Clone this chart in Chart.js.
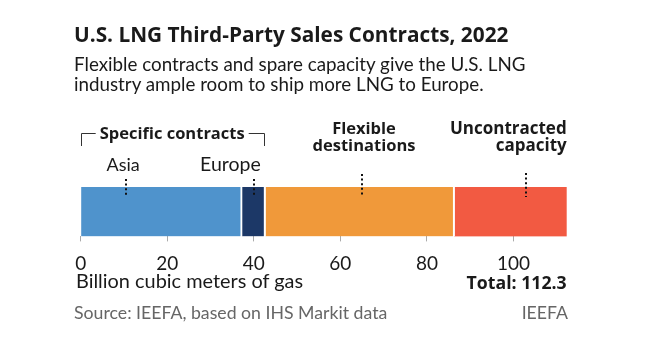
<!DOCTYPE html>
<html>
<head>
<meta charset="utf-8">
<script src="https://cdn.jsdelivr.net/npm/chart.js@4"></script>
<style>
  html, body { margin: 0; padding: 0; background: #fff; }
  #wrap { position: relative; width: 645px; height: 350px; overflow: hidden; font-family: Lato, sans-serif; color: #1a1a1a; }
  #chart { position: absolute; left: 0; top: 0; }
  .t { position: absolute; white-space: nowrap; }
  .b { font-family: "Open Sans", sans-serif; font-weight: bold; }
</style>
</head>
<body>
<div id="wrap">
  <canvas id="chart" width="645" height="350"></canvas>
  <div id="title" class="t b">U.S. LNG Third-Party Sales Contracts, 2022</div>
  <div id="subtitle" class="t">Flexible contracts and spare capacity give the U.S. LNG<br>industry ample room to ship more LNG to Europe.</div>
  <div id="specific" class="t b">Specific contracts</div>
  <div id="lblAsia" class="t">Asia</div>
  <div id="lblEurope" class="t">Europe</div>
  <div id="lblFlex" class="t b" style="text-align:center">Flexible<br>destinations</div>
  <div id="lblUnc" class="t b" style="text-align:right">Uncontracted<br>capacity</div>
  <div id="axisTitle" class="t">Billion cubic meters of gas</div>
  <div id="total" class="t b">Total: 112.3</div>
  <div id="source" class="t" style="color:#666">Source: IEEFA, based on IHS Markit data</div>
  <div id="brand" class="t" style="color:#666">IEEFA</div>
</div>
<script>
// values (billion cubic meters)
const categories = ["U.S. LNG"];
const segmentLabels = ["Asia", "Europe", "Flexible destinations", "Uncontracted capacity"];
const segmentValues = [37.3, 5.4, 43.7, 25.9];
const segmentColors = ["#4f93cc", "#1c3867", "#f0993a", "#f25a42"];
const tickStep = 20;
const totalValue = 112.3;
// where the dotted callouts touch the bar
const calloutAt = [10.5, 40, 65, 103];

const el = (id) => document.getElementById(id);

// ascent / descent per family, as fraction of font size
const metrics = { lato: [0.987, 0.213], open: [1.069, 0.293] };

// put a text box so its first baseline sits at y
function place(id, x, baseline, size, align, lineH) {
  const node = el(id);
  const m = node.classList.contains("b") ? metrics.open : metrics.lato;
  const content = (m[0] + m[1]) * size;
  const lh = lineH || content;
  node.style.fontSize = size + "px";
  node.style.lineHeight = lh + "px";
  node.style.top = (baseline - ((lh - content) / 2 + m[0] * size)) + "px";
  node.style.left = x + "px";
  if (align === "center") node.style.transform = "translateX(-50%)";
  if (align === "right") node.style.transform = "translateX(-100%)";
}

place("title", 74, 42.3, 20.8, "left");
place("subtitle", 74, 71.7, 18.8, "left", 20);
place("axisTitle", 76, 289, 19.9, "left");
place("source", 74, 319, 17.7, "left");
place("brand", 568, 319, 17.7, "right");

const calloutPlugin = {
  id: "callouts",
  afterDraw(chart) {
    const ctx = chart.ctx;
    const x = chart.scales.x;
    const area = chart.chartArea;
    const px = calloutAt.map((v) => x.getPixelForValue(v));

    place("specific", x.getPixelForValue(0) + 19, 140, 16.5, "left");
    place("lblAsia", px[0] - 3, 171.7, 18, "center");
    place("lblEurope", px[1] + 7, 171.7, 19.5, "right");
    place("lblFlex", px[2] + 2, 134, 16.5, "center", 17.7);
    place("lblUnc", area.right, 134, 17, "right", 17.7);
    place("total", area.right, 289, 17.7, "right");

    // dotted leaders
    ctx.save();
    ctx.strokeStyle = "#111";
    ctx.lineWidth = 2;
    ctx.setLineDash([2, 2.6]);
    const starts = [179, 179, 174, 173];
    px.forEach((p, i) => {
      ctx.beginPath();
      ctx.moveTo(Math.round(p), starts[i]);
      ctx.lineTo(Math.round(p), 197);
      ctx.stroke();
    });
    ctx.restore();

    // bracket over the specific contracts
    const wrapBox = el("wrap").getBoundingClientRect();
    const tb = el("specific").getBoundingClientRect();
    const x0 = Math.round(x.getPixelForValue(0)) + 0.5;
    const x1 = Math.round(x.getPixelForValue(segmentValues[0] + segmentValues[1])) - 0.5;
    const y = 133.5;
    ctx.save();
    ctx.strokeStyle = "#333";
    ctx.lineWidth = 1;
    ctx.beginPath();
    ctx.moveTo(x0, 146);
    ctx.lineTo(x0, y);
    ctx.lineTo(tb.left - wrapBox.left - 4, y);
    ctx.moveTo(tb.right - wrapBox.left + 4, y);
    ctx.lineTo(x1, y);
    ctx.lineTo(x1, 146);
    ctx.stroke();
    ctx.restore();
  }
};

new Chart(el("chart"), {
  type: "bar",
  data: {
    labels: categories,
    datasets: segmentLabels.map((label, i) => ({
      label,
      data: [segmentValues[i]],
      backgroundColor: segmentColors[i],
      borderColor: "#ffffff",
      borderWidth: { top: 0, bottom: 0, left: 0, right: i < segmentLabels.length - 1 ? 2 : 0 },
      borderSkipped: false,
      barPercentage: 1,
      categoryPercentage: 1
    }))
  },
  options: {
    indexAxis: "y",
    responsive: false,
    animation: false,
    events: [],
    layout: { padding: { left: 80.7, right: 78.3, top: 187, bottom: 64.2 } },
    plugins: { legend: { display: false }, tooltip: { enabled: false } },
    scales: {
      x: {
        stacked: true,
        min: 0,
        max: totalValue,
        border: { display: false },
        grid: { drawOnChartArea: false, drawTicks: true, tickLength: 5, color: "#aaa" },
        ticks: {
          stepSize: tickStep,
          includeBounds: false,
          maxRotation: 0,
          padding: 10.8,
          color: "#1a1a1a",
          font: { family: "Lato", size: 19 }
        }
      },
      y: { stacked: true, display: false }
    }
  },
  plugins: [calloutPlugin]
});
</script>
</body>
</html>
